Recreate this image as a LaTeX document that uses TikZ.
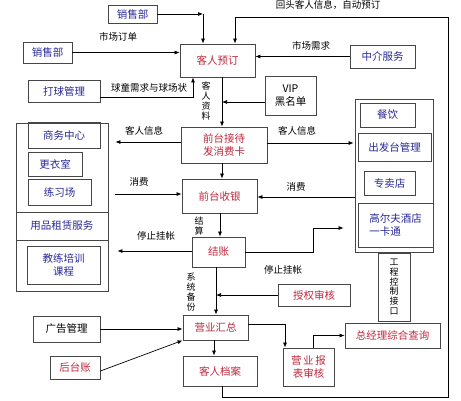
\documentclass[tikz,border=0pt]{standalone}
\usepackage{fontspec}
\setmainfont{Noto Sans CJK SC}
\usetikzlibrary{arrows.meta}
\definecolor{tred}{RGB}{190,40,60}
\definecolor{tblue}{RGB}{40,40,150}
\definecolor{edge}{RGB}{70,70,70}
\newcommand\rbox[6]{\node[#1, minimum width={(#4)-(#2)}, minimum height={(#5)-(#3)}] (#6) at ({((#2)+(#4))/2},{((#3)+(#5))/2})}
\begin{document}
\begin{tikzpicture}[x=1pt,y=-1pt,
  box/.style={draw=edge, line width=0.8pt, inner sep=0pt, align=center, font=\fontsize{10.5}{13}\selectfont},
  rt/.style={text=tred},
  bt/.style={text=tblue},
  kt/.style={text=black},
  lbl/.style={inner sep=0pt, font=\fontsize{9.5}{11}\selectfont},
  vlbl/.style={inner sep=0pt, align=center, font=\fontsize{9}{9.8}\selectfont},
  arr/.style={draw=black, line width=0.7pt, -{Latex[length=5pt,width=4pt]}},
  ln/.style={draw=black, line width=0.7pt}]
\useasboundingbox (0,0) rectangle (461,400);
% main column
\rbox{box,rt}{180}{44}{255}{77}{yd} {客人预订};
\rbox{box,rt}{181}{127}{267}{163}{jd} {前台接待\\发消费卡};
\rbox{box,rt}{182}{179}{257}{213}{sy} {前台收银};
\rbox{box,rt}{192}{237}{245}{267}{jz} {结账};
\rbox{box,rt}{183}{315}{248}{340}{hz} {营业汇总};
\rbox{box,rt}{183}{356}{257}{386}{kd} {客人档案};
% top and left sources
\rbox{box,bt}{108}{5}{157}{23}{s1} {销售部};
\rbox{box,bt}{23}{42}{72}{63}{s2} {销售部};
\rbox{box,bt}{28}{80}{100}{102}{dq} {打球管理};
\rbox{box,kt}{265}{76}{316}{115}{vip} {VIP\\黑名单};
\rbox{box,bt}{350}{45}{415}{68}{zj} {中介服务};
% left group
\rbox{box}{16}{123}{108}{291}{lg} {};
\rbox{box,bt}{28}{122}{100}{148}{swzx} {商务中心};
\rbox{box,bt}{28}{152}{82}{176}{gys} {更衣室};
\rbox{box,bt}{28}{179}{91}{205}{lxc} {练习场};
\rbox{box,bt}{16}{212}{108}{240}{ypzl} {用品租赁服务};
\rbox{box,bt}{27}{246}{100}{284}{jlpx} {教练培训\\课程};
% right group
\rbox{box}{355}{99}{433}{252}{rg} {};
\rbox{box,bt}{360}{103}{415}{127}{cy} {餐饮};
\rbox{box,bt}{358}{133}{431}{161}{cft} {出发台管理};
\rbox{box,bt}{364}{171}{415}{195}{zmd} {专卖店};
\rbox{box,bt,align=left}{358}{203}{433}{247}{gef} {高尔夫酒店\\一卡通};
% lower
\rbox{box,rt}{278}{284}{350}{306}{sq} {授权审核};
\rbox{box,kt,font=\fontsize{9}{9.8}\selectfont}{378}{253}{410}{321}{gc} {工\\程\\控\\制\\接\\口};
\rbox{box,kt}{33}{316}{100}{342}{gg} {广告管理};
\rbox{box,rt}{50}{356}{100}{379}{ht} {后台账};
\rbox{box,rt}{283}{348}{334}{386}{bb} {营\,业\,报\\表审核};
\rbox{box,rt}{345}{323}{440}{348}{zjl} {总经理综合查询};
% coordinates
\coordinate (c1) at (203,14);
\coordinate (vipe) at (222,102);
\coordinate (sqe) at (216,295);
\coordinate (l1) at (222,397);
\coordinate (l2) at (448,397);
\coordinate (l3) at (448,17);
\coordinate (l4) at (235,17);
\coordinate (k1) at (313,252);
% connectors
\draw[arr] (s1.east) -- (c1);
\draw[arr] (c1) -- (yd.north -| c1);
\draw[arr] (s2.east) -- (yd.west |- s2.east);
\draw[arr] (dq.east |- 0,97) -| (yd.south -| 193,0);
\draw[arr] (yd.south -| 222,0) -- (jd.north -| 222,0);
\draw[arr] (vip.west |- vipe) -- (vipe);
\draw[arr] (zj.west) -- (yd.east |- zj.west);
\draw[arr] (kd.south -| l1) -- (l1) -- (l2) -- (l3) -- (l4) -- (yd.north -| l4);
\draw[arr, shorten >=7pt] (jd.west |- 0,142) -- (lg.east |- 0,142);
\draw[arr, shorten >=1pt] (jd.east |- 0,143) -- (rg.west |- 0,143);
\draw[arr] (jd.south -| 222,0) -- (sy.north -| 222,0);
\draw[arr, shorten <=7pt] (lg.east |- 0,194) -- (sy.west |- 0,194);
\draw[arr] (rg.west |- 0,197) -- (sy.east |- 0,197);
\draw[arr] (sy.south -| 220,0) -- (jz.north -| 220,0);
\draw[arr, shorten >=9pt] (jz.west |- 0,251) -- (lg.east |- 0,251);
\draw[arr, shorten >=11pt] (jz.east |- k1) -- (k1) |- (rg.west |- 0,228);
\draw[arr] (sq.west) -- (sqe);
\draw[arr] (jz.south -| 216,0) -- (hz.north -| 216,0);
\draw[arr] (gg.east) -- (hz.west |- gg.east);
\draw[arr] (ht.east |- 0,371) -- (hz.south west);
\draw[arr] (hz.south -| 214,0) -- (kd.north -| 214,0);
\draw[arr] (hz.east |- 0,324) -| (bb.north -| 285,0);
\draw[arr] (bb.north -| 313,0) |- (zjl.west);
% labels
\node[lbl] (t1) at (118,37) {市场订单};
\node[lbl] (t2) at (149,88) {球童需求与球场状};
\node[vlbl] (t3) at (206,101) {客\\人\\资\\料};
\node[lbl] (t4) at (311,46) {市场需求};
\node[lbl] (t5) at (328,5) {回头客人信息，自动预订};
\node[lbl] (t6) at (144,131) {客人信息};
\node[lbl] (t7) at (297,131) {客人信息};
\node[lbl] (t8) at (139,182) {消费};
\node[lbl] (t9) at (296,187) {消费};
\node[vlbl] (t10) at (199,226) {结\\算};
\node[lbl] (t11) at (156,236) {停止挂帐};
\node[lbl] (t12) at (283,270) {停止挂帐};
\node[vlbl] (t13) at (191,292) {系\\统\\备\\份};
\end{tikzpicture}
\end{document}
